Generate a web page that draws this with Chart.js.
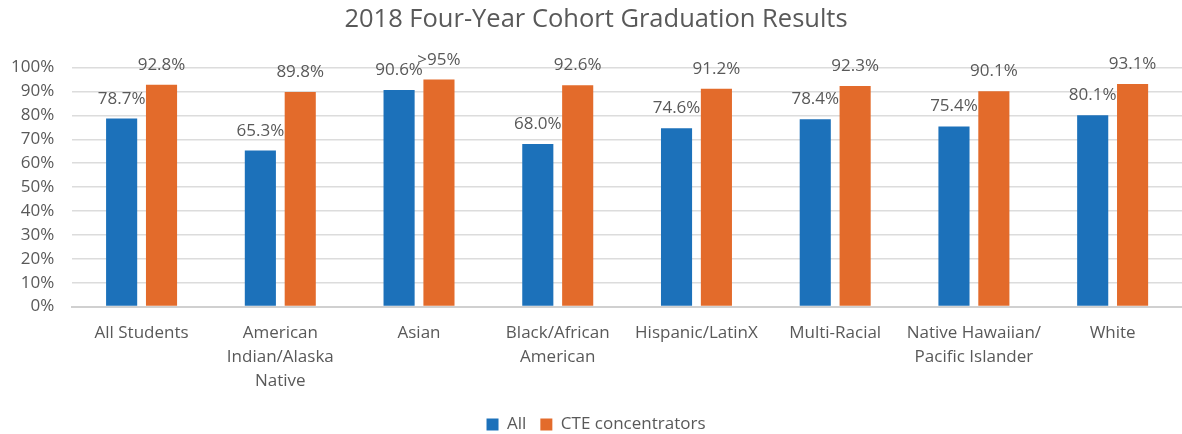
<!DOCTYPE html>
<html>
<head>
<meta charset="utf-8">
<script src="https://cdn.jsdelivr.net/npm/chart.js@4"></script>
<style>
  html, body { margin: 0; padding: 0; background: #fff; }
  #wrap { width: 1182px; height: 434px; position: relative; }
</style>
</head>
<body>
<div id="wrap"><canvas id="grafico"></canvas></div>
<script>
const categorias = [
  "All Students",
  ["American", "Indian/Alaska", "Native"],
  "Asian",
  ["Black/African", "American"],
  "Hispanic/LatinX",
  "Multi-Racial",
  ["Native Hawaiian/", "Pacific Islander"],
  "White",
];
const valoresAll = [78.7, 65.3, 90.6, 68.0, 74.6, 78.4, 75.4, 80.1];
const valoresCte = [92.8, 89.8, 95, 92.6, 91.2, 92.3, 90.1, 93.1];
const rotulosAll = ["78.7%", "65.3%", "90.6%", "68.0%", "74.6%", "78.4%", "75.4%", "80.1%"];
const rotulosCte = ["92.8%", "89.8%", ">95%", "92.6%", "91.2%", "92.3%", "90.1%", "93.1%"];

const fonte = "'Open Sans', sans-serif";
const cinza = "#595959";

// rotulos em cima das barras
const rotulosPlugin = {
  id: "rotulos",
  afterDatasetsDraw(chart) {
    const ctx = chart.ctx;
    ctx.save();
    ctx.font = "17px " + fonte;
    ctx.fillStyle = cinza;
    ctx.textAlign = "center";
    ctx.textBaseline = "alphabetic";
    chart.data.datasets.forEach((ds, i) => {
      const meta = chart.getDatasetMeta(i);
      meta.data.forEach((bar, j) => {
        ctx.fillText(ds.rotulos[j], bar.x, bar.y - 15);
      });
    });
    ctx.restore();
  },
};

new Chart(document.querySelector("#grafico"), {
  type: "bar",
  data: {
    labels: categorias,
    datasets: [
      {
        label: "All",
        data: valoresAll,
        rotulos: rotulosAll,
        backgroundColor: "#1C71BA",
        categoryPercentage: 0.575,
        barPercentage: 0.78,
      },
      {
        label: "CTE concentrators",
        data: valoresCte,
        rotulos: rotulosCte,
        backgroundColor: "#E36B2B",
        categoryPercentage: 0.575,
        barPercentage: 0.78,
      },
    ],
  },
  options: {
    responsive: true,
    maintainAspectRatio: false,
    animation: false,
    layout: { padding: { left: 10, right: 0, top: 0, bottom: -9 } },
    plugins: {
      title: {
        display: true,
        text: "2018 Four-Year Cohort Graduation Results",
        color: cinza,
        font: { family: fonte, size: 25.5, weight: "normal" },
        padding: { top: 4, bottom: 33 },
      },
      legend: {
        position: "bottom",
        labels: {
          color: cinza,
          font: { family: fonte, size: 17 },
          boxWidth: 12,
          boxHeight: 12,
          padding: 14,
        },
      },
      tooltip: { enabled: false },
    },
    scales: {
      x: {
        grid: { display: false },
        border: { color: "#d0d0d0", width: 2 },
        ticks: {
          color: cinza,
          font: { family: fonte, size: 17, lineHeight: 1.4 },
          maxRotation: 0,
          autoSkip: false,
          padding: 7,
        },
        afterFit(scale) {
          scale.height += 2;
        },
      },
      y: {
        min: 0,
        max: 100,
        ticks: {
          stepSize: 10,
          autoSkip: false,
          color: cinza,
          font: { family: fonte, size: 17 },
          padding: 18,
          callback: (v) => v + "%",
        },
        afterFit(scale) {
          scale.width -= 17;
        },
        grid: { color: "#dcdcdc", lineWidth: 1.5, drawTicks: false },
        border: { display: false },
      },
    },
  },
  plugins: [rotulosPlugin],
});
</script>
</body>
</html>
